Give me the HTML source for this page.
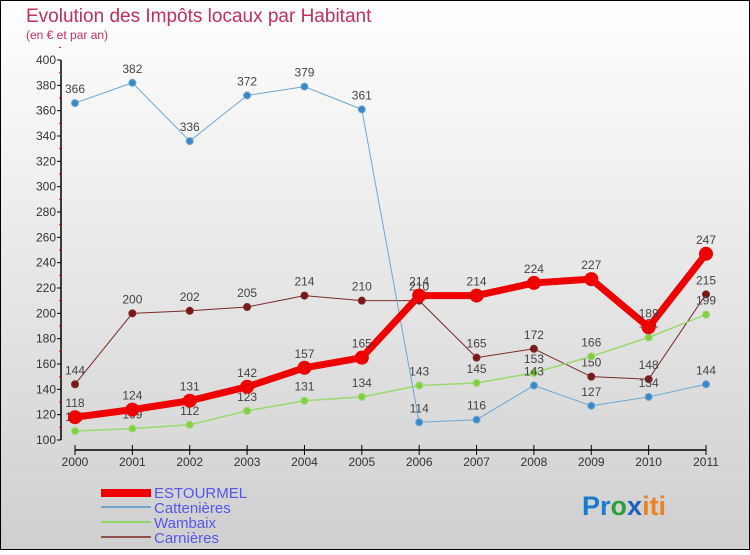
<!DOCTYPE html>
<html><head><meta charset="utf-8"><style>
body{margin:0;width:750px;height:550px;overflow:hidden;font-family:"Liberation Sans",sans-serif}
</style></head><body>
<svg id="chart" width="750" height="550" xmlns="http://www.w3.org/2000/svg" font-family="Liberation Sans, sans-serif">
<defs><linearGradient id="bg" x1="0" y1="0" x2="0" y2="1"><stop offset="0" stop-color="#ffffff"/><stop offset="1" stop-color="#cfcfcf"/></linearGradient></defs>
<rect x="0.5" y="0.5" width="749" height="549" fill="url(#bg)" stroke="#000"/>
<text x="26" y="22" font-size="19" fill="#c0305a">Evolution des Impôts locaux par Habitant</text>
<text x="26" y="39" font-size="12" fill="#c0305a">(en € et par an)</text>
<g id="axes"></g><g id="series"></g>
<g font-size="15" fill="#5555ee">
<rect x="101" y="489" width="50" height="8" fill="#e00"/>
<text x="154" y="498">ESTOURMEL</text>
<rect x="101" y="506" width="50" height="2" fill="#6fa6d0"/>
<text x="154" y="513">Cattenières</text>
<rect x="101" y="521" width="50" height="2" fill="#90d860"/>
<text x="154" y="528">Wambaix</text>
<rect x="101" y="536" width="50" height="2" fill="#905050"/>
<text x="154" y="543">Carnières</text>
</g>
<text x="582" y="515" font-size="27" font-weight="bold"><tspan fill="#1a7ad0">Pr</tspan><tspan fill="#2aa040">o</tspan><tspan fill="#1a60c0">x</tspan><tspan fill="#f08020">iti</tspan></text>
</svg>
<script>
const years=["2000","2001","2002","2003","2004","2005","2006","2007","2008","2009","2010","2011"];
const yTicks=[100,120,140,160,180,200,220,240,260,280,300,320,340,360,380,400];
const estourmel=[118,124,131,142,157,165,214,214,224,227,189,247];
const cattenieres=[366,382,336,372,379,361,114,116,143,127,134,144];
const wambaix=[107,109,112,123,131,134,143,145,153,166,181,199];
const carnieres=[144,200,202,205,214,210,210,165,172,150,148,215];
const NS="http://www.w3.org/2000/svg";
const x=i=>75+i*(631/11);
const y=v=>440-(v-100)*380/300;
function mk(tag,attrs,parent){const e=document.createElementNS(NS,tag);for(const k in attrs)e.setAttribute(k,attrs[k]);parent.appendChild(e);return e;}
const ax=document.getElementById('axes');
const ya=mk('line',{x1:61,y1:60,x2:61,y2:440,stroke:'#000','stroke-width':1.5},ax);


yTicks.forEach(t=>{
 mk('line',{x1:57,x2:61,y1:y(t),y2:y(t),stroke:'#000'},ax);
 mk('line',{x1:59,x2:61,y1:y(t+10),y2:y(t+10),stroke:'#e00'},ax);
 const tx=mk('text',{x:56,y:y(t)+4,'text-anchor':'end','font-size':12,fill:'#333'},ax);
 tx.textContent=t;
 
 
});
const xa=mk('line',{x1:75,y1:450,x2:706,y2:450,stroke:'#000','stroke-width':1.5},ax);


years.forEach((yr,i)=>{
 mk('line',{x1:x(i),x2:x(i),y1:445,y2:455,stroke:'#000'},ax);
 const tx=mk('text',{x:x(i),y:466,'text-anchor':'middle','font-size':12,fill:'#333'},ax);
 tx.textContent=yr;
 
 
});
const sg=document.getElementById('series');
function series(name,data,color,dot,w,r,labels){
 const g=mk('g',{},sg);
 
 
 const pl=mk('polyline',{points:data.map((v,i)=>x(i)+','+y(v)).join(' '),fill:'none',stroke:color,'stroke-width':w,'stroke-linejoin':'round'},g);
 
 
 data.forEach((v,i)=>{
  const c=mk('circle',{cx:x(i),cy:y(v),r:r,fill:dot,stroke:color,'stroke-width':1},g);
  
  
  if(labels){const t=mk('text',{x:x(i),y:y(v)-10,'text-anchor':'middle','font-size':12,fill:'#444'},g);
  t.textContent=v;
  
  }
 });
}
series('carnieres',carnieres,'#7a2a2a','#7a1818',1,3.5,true);
series('wambaix',wambaix,'#9ad870','#80d040',1.5,3.5,true);
series('cattenieres',cattenieres,'#6fa6d0','#3a88cc',1,3.5,true);
series('estourmel',estourmel,'#ee0000','#ee0000',7,6.5,true);
</script>
</body></html>
